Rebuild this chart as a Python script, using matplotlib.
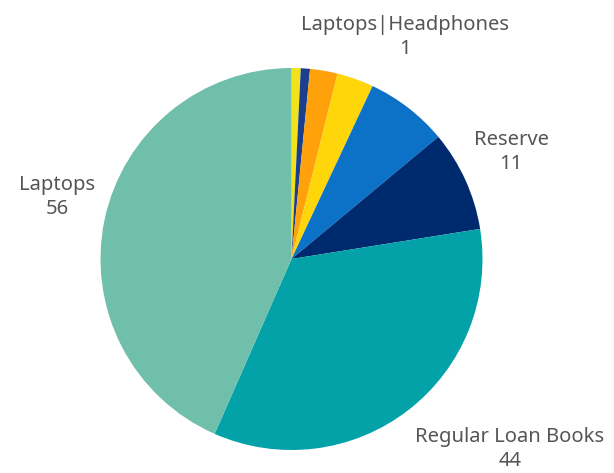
import matplotlib
matplotlib.use("Agg")
import matplotlib.pyplot as plt

categories = ["Laptops|Headphones", "Other A", "Other B", "Other C", "Other D",
              "Reserve", "Regular Loan Books", "Laptops"]
values = [1, 1, 3, 4, 9, 11, 44, 56]
colors = ["#f2e21c", "#1b3f8c", "#ffa10a", "#ffd60a", "#0b72c8",
          "#002a6e", "#03a1a8", "#6fbfab"]
shown = {"Laptops|Headphones", "Reserve", "Regular Loan Books", "Laptops"}

W, H = 614, 473
fig = plt.figure(figsize=(W / 100, H / 100), dpi=100)
ax = fig.add_axes([0, 0, 1, 1])
cx, cy, r = 291.5, 259, 191

ax.pie(values, colors=colors, startangle=90, counterclock=False, radius=1,
       wedgeprops=dict(linewidth=0), frame=False)
ax.set_aspect("auto")
ax.set_xlim(-cx / r, (W - cx) / r)
ax.set_ylim(-(H - cy) / r, cy / r)
ax.axis("off")

label_pos = {
    "Laptops|Headphones": (405, 37),
    "Reserve": (511, 152),
    "Regular Loan Books": (510, 449),
    "Laptops": (57, 197),
}
for cat, val in zip(categories, values):
    if cat in shown:
        px, py = label_pos[cat]
        ax.text((px - cx) / r, (cy - py) / r, f"{cat}\n{val}", ha="center",
                va="center", fontsize=14.5, color="#555555", family="Noto Sans",
                linespacing=1.3)

fig.savefig("out.png", dpi=100, facecolor="white")
